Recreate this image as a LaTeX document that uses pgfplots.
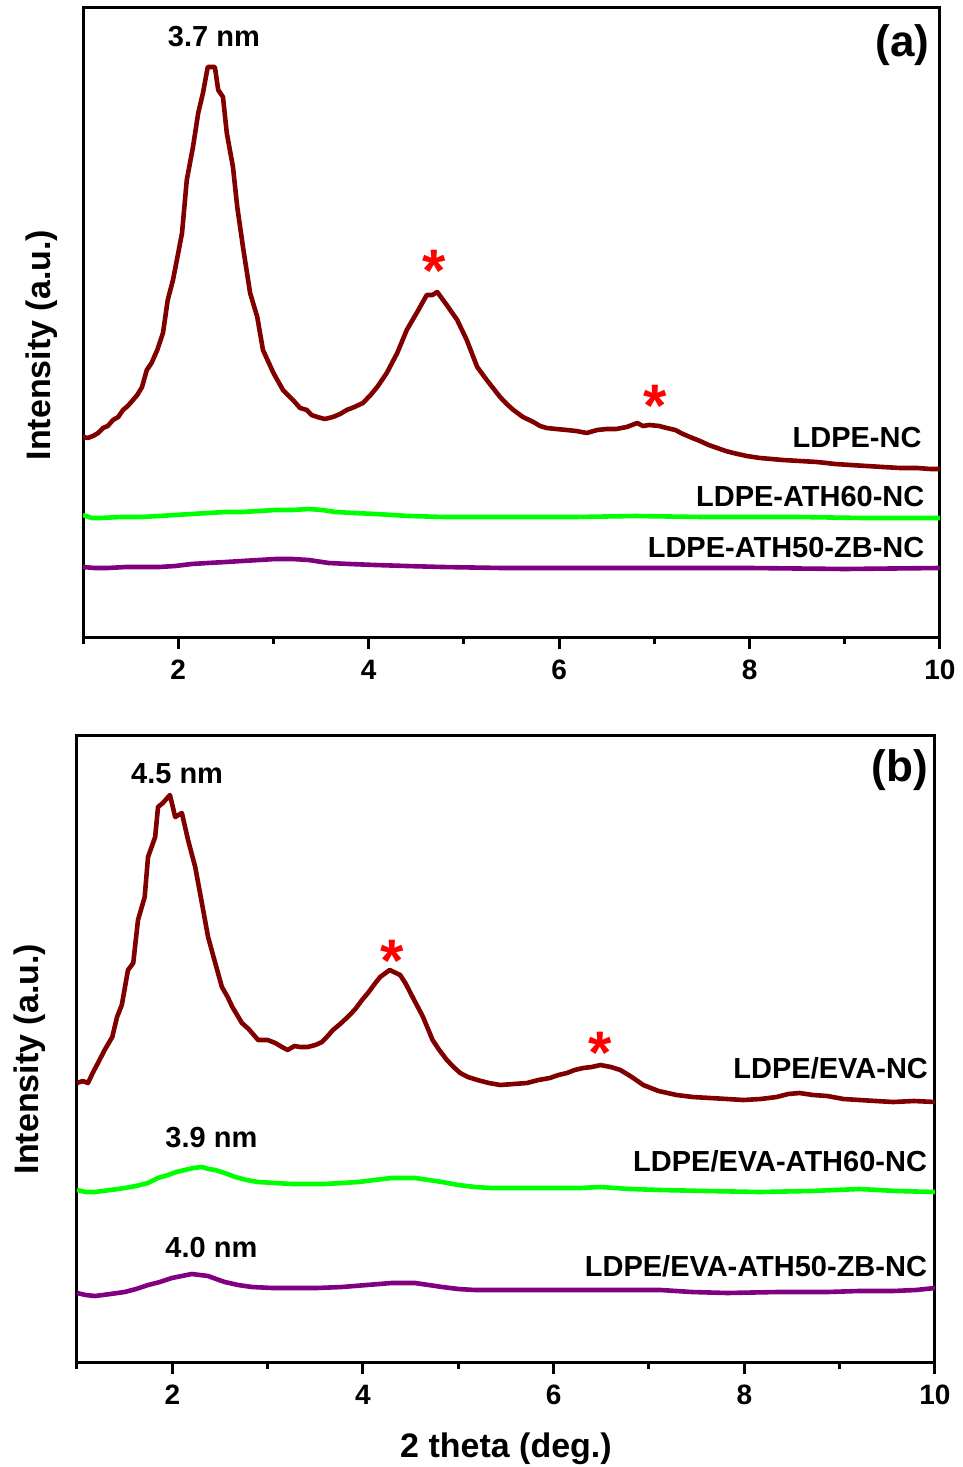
\documentclass[border=0pt]{standalone}
\usepackage{fontspec}
\setmainfont{Liberation Sans}
\usepackage{pgfplots}
\pgfplotsset{compat=1.18}
\definecolor{ldpe}{RGB}{128,0,0}
\definecolor{ath}{RGB}{0,255,0}
\definecolor{zb}{RGB}{128,0,128}

\pgfplotsset{xrdpanel/.style={
  scale only axis, xmin=1, xmax=10, ymin=0,
  xtick={2,4,6,8,10}, minor xtick={1,3,5,7,9}, ytick=\empty,
  xtick pos=left, tick align=outside,
  major tick length=6pt, minor tick length=3.5pt,
  axis line style={line width=1.5pt},
  tick style={line width=1.5pt, black},
  every axis plot/.append style={line width=2.3pt, mark=none, line join=round},
  xticklabel style={font=\fontsize{14}{14}\selectfont\bfseries, yshift=-2pt},
  /pgf/number format/assume math mode=true,
  ylabel={Intensity (a.u.)},
  ylabel style={font=\fontsize{17}{17}\selectfont\bfseries, anchor=center},
}}
\tikzset{lab/.style={font=\fontsize{14.5}{14.5}\selectfont\bfseries, inner sep=0pt},
  star/.style={font=\fontsize{30}{30}\selectfont\bfseries, text=red, inner sep=0pt, anchor=base}}

\begin{document}
\begin{tikzpicture}
% panel (a)
\begin{axis}[xrdpanel, width=428.5pt, height=314.5pt, ymax=629,
  ylabel style={at={(axis description cs:-0.048,0.464)}}]
\addplot[ldpe] coordinates {(1.00,200) (1.05,199) (1.105,201) (1.16,204) (1.21,209) (1.26,211) (1.315,217) (1.37,220) (1.42,227) (1.47,231) (1.525,237) (1.57,242) (1.62,250) (1.67,267) (1.72,274) (1.78,287) (1.84,304) (1.89,337) (1.945,357) (2.00,384) (2.04,404) (2.09,457) (2.155,490) (2.21,524) (2.26,544) (2.31,570) (2.385,570) (2.42,547) (2.47,540) (2.51,504) (2.575,470) (2.62,430) (2.68,390) (2.755,344) (2.83,320) (2.89,287) (3.00,264) (3.10,247) (3.205,237) (3.28,229) (3.35,227) (3.40,222) (3.46,220) (3.54,218) (3.625,220) (3.70,223) (3.77,227) (3.85,230) (3.94,234) (4.02,242) (4.09,250) (4.19,264) (4.30,284) (4.40,307) (4.51,325) (4.61,342) (4.67,342) (4.72,345) (4.82,332) (4.93,317) (5.03,297) (5.14,270) (5.24,257) (5.38,240) (5.45,233) (5.52,227) (5.62,220) (5.73,215) (5.80,211) (5.87,209) (5.97,208) (6.08,207) (6.18,206) (6.29,204) (6.40,207) (6.50,208) (6.60,208) (6.71,210) (6.82,214) (6.88,211) (6.95,212) (7.05,211) (7.13,209) (7.22,207) (7.30,203) (7.40,199) (7.48,196) (7.57,192) (7.66,189) (7.75,186) (7.83,184) (7.97,181) (8.11,179) (8.23,178) (8.35,177) (8.53,176) (8.71,175) (8.90,173) (9.06,172) (9.23,171) (9.40,170) (9.58,169) (9.76,169) (9.90,168) (10.00,168)};
\addplot[ath] coordinates {(1.00,122) (1.09,119) (1.18,119) (1.40,120) (1.62,120) (1.80,121) (1.97,122) (2.14,123) (2.31,124) (2.50,125) (2.67,125) (2.85,126) (3.02,127) (3.20,127) (3.37,128) (3.51,127) (3.65,125) (3.85,124) (4.07,123) (4.25,122) (4.42,121) (4.80,120) (5.12,120) (5.60,120) (6.17,120) (6.80,121) (7.5,120) (8.0,120) (8.5,120) (9.2,119) (10,119)};
\addplot[zb] coordinates {(1.00,70) (1.12,69) (1.26,69) (1.45,70) (1.62,70) (1.80,70) (1.97,71) (2.14,73) (2.31,74) (2.50,75) (2.67,76) (2.85,77) (3.02,78) (3.20,78) (3.37,77) (3.58,74) (3.80,73) (4.07,72) (4.40,71) (4.77,70) (5.40,69) (6.17,69) (7.0,69) (8,69) (9,68) (10,69)};
\node[lab] at (axis cs:2.375,600) {3.7 nm};
\node[lab, anchor=east, font=\fontsize{22}{22}\selectfont\bfseries] at (axis cs:9.895,592) {(a)};
\node[star] at (axis cs:4.69,345) {*};
\node[star] at (axis cs:7.01,210) {*};
\node[lab, anchor=east] at (axis cs:9.81,199) {LDPE-NC};
\node[lab, anchor=east] at (axis cs:9.84,140) {LDPE-ATH60-NC};
\node[lab, anchor=east] at (axis cs:9.84,89) {LDPE-ATH50-ZB-NC};
\end{axis}
% panel (b)
\begin{axis}[xrdpanel, at={(-3pt,-362.5pt)}, width=429pt, height=313.5pt, ymax=627,
  ylabel style={at={(axis description cs:-0.055,0.483)}},
  xlabel={2 theta (deg.)},
  xlabel style={font=\fontsize{17}{17}\selectfont\bfseries, inner sep=0pt, at={(axis description cs:0.5,-0.139)}, anchor=center}]
\addplot[ldpe] coordinates {(1.00,279) (1.06,281) (1.115,279) (1.17,290) (1.22,299) (1.29,312) (1.37,325) (1.42,345) (1.47,357) (1.535,392) (1.59,399) (1.64,442) (1.71,465) (1.745,505) (1.82,525) (1.85,555) (1.90,559) (1.975,567) (2.03,545) (2.10,549) (2.165,522) (2.24,495) (2.31,459) (2.375,425) (2.45,399) (2.52,375) (2.58,365) (2.63,355) (2.73,339) (2.80,333) (2.90,322) (3.00,322) (3.08,319) (3.15,315) (3.21,312) (3.28,316) (3.34,315) (3.42,315) (3.50,317) (3.57,320) (3.63,326) (3.685,332) (3.76,338) (3.84,345) (3.92,353) (3.99,362) (4.06,370) (4.13,379) (4.18,385) (4.28,392) (4.39,387) (4.45,378) (4.52,365) (4.63,345) (4.73,322) (4.80,312) (4.88,302) (4.95,295) (5.02,289) (5.10,285) (5.20,282) (5.32,279) (5.44,277) (5.58,278) (5.72,279) (5.84,282) (5.96,284) (6.05,287) (6.14,289) (6.22,292) (6.31,294) (6.40,295) (6.49,297) (6.60,295) (6.70,292) (6.82,285) (6.94,277) (7.10,271) (7.29,267) (7.46,265) (7.64,264) (7.82,263) (7.99,262) (8.17,263) (8.34,265) (8.46,268) (8.58,269) (8.72,267) (8.87,266) (9.04,263) (9.21,262) (9.38,261) (9.56,260) (9.78,261) (10.0,260)};
\addplot[ath] coordinates {(1.00,172) (1.09,170) (1.19,170) (1.35,172) (1.50,174) (1.62,176) (1.745,179) (1.85,184) (1.955,187) (2.04,190) (2.13,192) (2.22,194) (2.31,195) (2.38,193) (2.45,192) (2.55,189) (2.66,185) (2.78,182) (2.90,180) (3.08,179) (3.255,178) (3.43,178) (3.60,178) (3.78,179) (3.95,180) (4.12,182) (4.30,184) (4.42,184) (4.545,184) (4.69,182) (4.83,180) (5.00,177) (5.175,175) (5.35,174) (5.52,174) (5.80,174) (6.07,174) (6.28,174) (6.49,175) (6.80,173) (7.12,172) (7.60,171) (8.16,170) (8.70,171) (9.21,173) (9.60,171) (10.0,170)};
\addplot[zb] coordinates {(1.00,69) (1.09,67) (1.19,66) (1.35,68) (1.50,70) (1.62,73) (1.745,77) (1.87,80) (1.995,84) (2.10,86) (2.205,88) (2.29,87) (2.375,86) (2.46,83) (2.55,80) (2.69,77) (2.835,75) (3.05,74) (3.255,74) (3.52,74) (3.78,75) (4.04,77) (4.30,79) (4.42,79) (4.545,79) (4.69,77) (4.83,75) (5.00,73) (5.175,72) (5.60,72) (6.07,72) (6.60,72) (7.12,72) (7.45,70) (7.82,69) (8.35,70) (8.87,70) (9.20,71) (9.56,71) (9.80,72) (10.0,74)};
\node[lab] at (axis cs:2.05,588) {4.5 nm};
\node[lab, anchor=east, font=\fontsize{22}{22}\selectfont\bfseries] at (axis cs:9.93,592) {(b)};
\node[star] at (axis cs:4.31,381) {*};
\node[star] at (axis cs:6.49,289) {*};
\node[lab] at (axis cs:2.41,224) {3.9 nm};
\node[lab] at (axis cs:2.41,114) {4.0 nm};
\node[lab, anchor=east] at (axis cs:9.93,294) {LDPE/EVA-NC};
\node[lab, anchor=east] at (axis cs:9.92,201) {LDPE/EVA-ATH60-NC};
\node[lab, anchor=east] at (axis cs:9.92,96) {LDPE/EVA-ATH50-ZB-NC};
\end{axis}
\path (-41.5pt,318.5pt) rectangle (438.5pt,-415pt);
\end{tikzpicture}
\end{document}
